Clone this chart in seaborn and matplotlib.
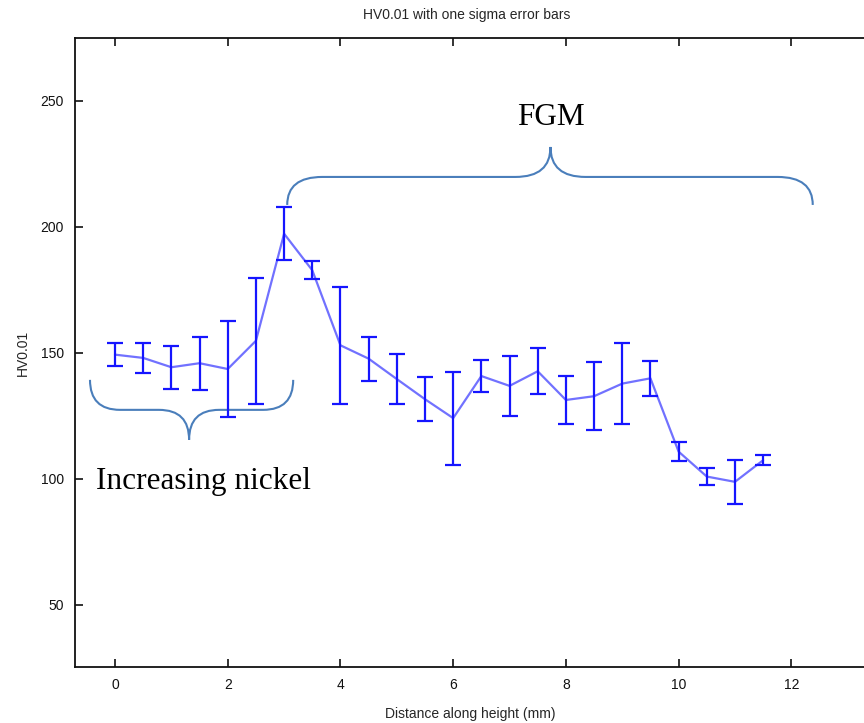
import matplotlib
matplotlib.use("Agg")
import matplotlib.pyplot as plt
from matplotlib.path import Path
from matplotlib.patches import PathPatch
import seaborn as sns
import pandas as pd

# ---- data ----
distance = [0, 0.5, 1, 1.5, 2, 2.5, 3, 3.5, 4, 4.5, 5, 5.5, 6, 6.5, 7, 7.5,
            8, 8.5, 9, 9.5, 10, 10.5, 11, 11.5]
hv = [149.3, 148.0, 144.3, 145.9, 143.6, 154.8, 197.3, 182.8, 153.0, 147.7,
      139.6, 131.6, 124.1, 140.8, 136.9, 142.7, 131.3, 132.8, 137.8, 139.9,
      110.8, 100.9, 98.8, 107.4]
sigma = [4.6, 5.8, 8.5, 10.6, 18.9, 25.0, 10.5, 3.6, 23.2, 8.7, 9.9, 8.8,
         18.5, 6.2, 11.9, 9.2, 9.5, 13.6, 16.0, 7.0, 3.9, 3.3, 8.6, 1.9]
xticks = [0, 2, 4, 6, 8, 10, 12]
xticklabels = ["0", "2", "4", "6", "8", "10", "12"]
yticks = [50, 100, 150, 200, 250]

df = pd.DataFrame({"distance": distance, "hv": hv, "sigma": sigma})

sns.set_style("white")
plt.rcParams["font.family"] = ["Liberation Sans", "DejaVu Sans"]

W, H = 864, 723
fig = plt.figure(figsize=(W / 100, H / 100), dpi=100)
ax = fig.add_axes([75 / W, (H - 667) / H, 1 - 75 / W + 0.002, (667 - 38) / H])

sns.lineplot(data=df, x="distance", y="hv", ax=ax, color="#6262ff",
             linewidth=1.6, alpha=0.9, zorder=2)
ax.errorbar(df["distance"], df["hv"], yerr=df["sigma"], fmt="none",
            ecolor="#1515ff", elinewidth=1.6, capsize=5.6, capthick=1.6,
            zorder=3)

ax.set_xlim(-0.71, 13.32)
ax.set_ylim(25.3, 275.0)
ax.set_xticks(xticks)
ax.set_xticklabels(xticklabels)
ax.set_yticks(yticks)
ax.tick_params(axis="both", direction="in", length=6, width=1.2,
               labelsize=10, colors="#111111", pad=8)
ax.tick_params(axis="x", top=True, bottom=True)
ax.tick_params(axis="y", left=True, right=False)
for s in ["left", "top", "bottom"]:
    ax.spines[s].set_color("#111111")
    ax.spines[s].set_linewidth(1.3)
ax.spines["right"].set_visible(False)

ax.set_xlabel("Distance along height (mm)", fontsize=10, labelpad=11)
ax.set_ylabel("HV0.01", fontsize=10, labelpad=8)
fig.text(467 / W, 1 - 15 / H, "HV0.01 with one sigma error bars",
         ha="center", va="center", fontsize=10)


# ---- braces (positions in pixel space of the reference, mapped to data) ----
def px2data(px, py):
    return ((px - 115) / 56.3, 150 - (py - 353) / 2.52)


def brace(x0, x1, y_end, y_flat, tip_x, y_tip, r=28, rt=40):
    pts = [
        (Path.MOVETO, (x0, y_end)),
        (Path.CURVE3, (x0, y_flat)),
        (Path.CURVE3, (x0 + r, y_flat)),
        (Path.LINETO, (tip_x - rt, y_flat)),
        (Path.CURVE3, (tip_x, y_flat)),
        (Path.CURVE3, (tip_x, y_tip)),
        (Path.CURVE3, (tip_x, y_flat)),
        (Path.CURVE3, (tip_x + rt, y_flat)),
        (Path.LINETO, (x1 - r, y_flat)),
        (Path.CURVE3, (x1, y_flat)),
        (Path.CURVE3, (x1, y_end)),
    ]
    codes = [c for c, _ in pts]
    verts = [px2data(*p) for _, p in pts]
    return PathPatch(Path(verts, codes), facecolor="none",
                     edgecolor="#4a7ebb", linewidth=1.5, zorder=1,
                     clip_on=False)


ax.add_patch(brace(90, 293, 380, 410, 189, 440, r=30, rt=30))
ax.add_patch(brace(287, 812, 205, 177, 550, 147, r=35, rt=35))

serif = ["Liberation Serif", "DejaVu Serif"]
fx, fy = px2data(550, 118)
ax.text(fx, fy, "FGM", ha="center", va="center", fontsize=22.5,
        family=serif, color="black")
nx, ny = px2data(203, 482)
ax.text(nx, ny, "Increasing nickel", ha="center", va="center",
        fontsize=22.5, family=serif, color="black")

fig.savefig("out.png", dpi=100)
